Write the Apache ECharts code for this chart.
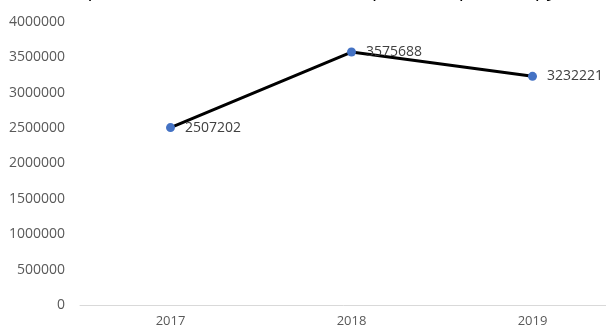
<!DOCTYPE html>
<html lang="ru">
<head>
    <meta charset="UTF-8">
    <script src="https://cdnjs.cloudflare.com/ajax/libs/echarts/6.0.0/echarts.min.js"></script>
    <title>Chart</title>
    <style>
      html, body { margin: 0; padding: 0; background: #fff; }
      #main { width: 606px; height: 327px; }
    </style>
</head>
<body>
  <div id="main"></div>
  <script>
    var years = ['2017', '2018', '2019'];
    var values = [2507202, 3575688, 3232221];
    // title is cut off at the top of the reference, only descenders show
    var titleText = 'Среднегодовая стоимость оборотных средств, руб.';

    var myChart = echarts.init(document.getElementById('main'));

    myChart.setOption({
      animation: false,
      title: {
        text: titleText,
        left: 70,
        top: -25,
        textStyle: { fontFamily: 'Open Sans', fontSize: 20, fontWeight: 'normal', color: '#000' }
      },
      // plot runs past the right edge like the cropped original
      grid: { left: 80, width: 543, top: 22, bottom: 22, outerBoundsMode: 'none', containLabel: false },
      xAxis: {
        type: 'category',
        data: years,
        boundaryGap: true,
        axisLine: { lineStyle: { color: '#d9d9d9', width: 1 } },
        axisTick: { show: false },
        axisLabel: { color: '#595959', fontSize: 13, margin: 10, fontFamily: 'Open Sans' },
        splitLine: { show: false }
      },
      yAxis: {
        type: 'value',
        min: 0,
        max: 4000000,
        interval: 500000,
        axisLine: { show: false },
        axisTick: { show: false },
        axisLabel: {
          color: '#595959', fontSize: 14, margin: 15, fontFamily: 'Open Sans',
          formatter: function (v) { return String(v); }
        },
        splitLine: { show: false }
      },
      series: [{
        type: 'line',
        data: values,
        symbol: 'circle',
        symbolSize: 9,
        itemStyle: { color: '#4472c4' },
        lineStyle: { color: '#000', width: 3 },
        label: {
          show: true,
          position: 'right',
          distance: 10,
          color: '#404040',
          fontSize: 14,
          fontFamily: 'Open Sans'
        }
      }]
    });
  </script>
</body>
</html>
